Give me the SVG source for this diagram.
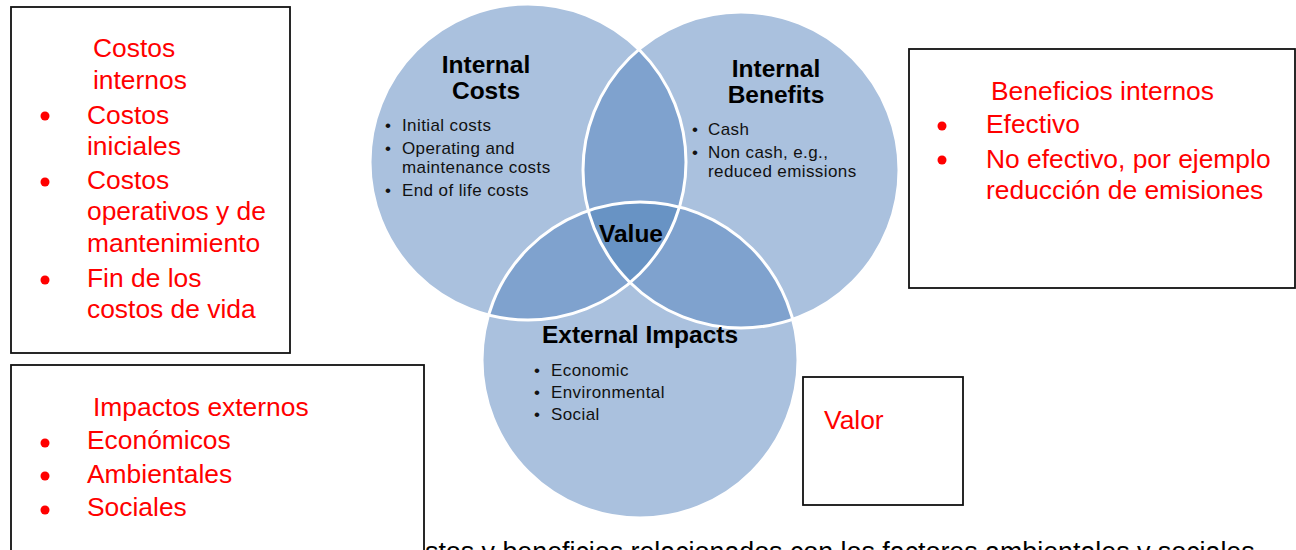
<svg xmlns="http://www.w3.org/2000/svg" width="1296" height="550" viewBox="0 0 1296 550">
  <style>
    .hd { font-family: "Liberation Sans", Arial, sans-serif; font-weight: bold; font-size: 24.5px; fill: #000; text-anchor: middle; }
    .it { font-family: "Liberation Sans", Arial, sans-serif; font-size: 17px; letter-spacing: 0.4px; fill: #111; }
    .rd { font-family: "Liberation Sans", Arial, sans-serif; font-size: 26.4px; fill: #ff0000; }
    .note { font-family: "Liberation Sans", Arial, sans-serif; font-size: 26.8px; fill: #000; }
    .box { fill: #fff; stroke: #111; stroke-width: 1.8; }
    .dot { fill: #ff0000; }
    .c-light { fill: #aac1de; }
    .c-mid { fill: #7fa2ce; }
    .c-dark { fill: #6893c4; }
    .ring { fill: none; stroke: #fff; stroke-width: 3; }
  </style>
  <defs>
    <clipPath id="clip-costs"><circle cx="528" cy="162" r="158"/></clipPath>
    <clipPath id="clip-benefits"><circle cx="741" cy="170" r="158"/></clipPath>
  </defs>

  <!-- Venn diagram: three overlapping circles -->
  <g id="venn">
    <circle class="c-light" cx="528" cy="162" r="158"/>
    <circle class="c-light" cx="741" cy="170" r="158"/>
    <circle class="c-light" cx="640" cy="360" r="158"/>
    <!-- pairwise overlaps -->
    <circle class="c-mid" cx="741" cy="170" r="158" clip-path="url(#clip-costs)"/>
    <circle class="c-mid" cx="640" cy="360" r="158" clip-path="url(#clip-costs)"/>
    <circle class="c-mid" cx="640" cy="360" r="158" clip-path="url(#clip-benefits)"/>
    <!-- centre where all three meet -->
    <g clip-path="url(#clip-costs)">
      <circle class="c-dark" cx="640" cy="360" r="158" clip-path="url(#clip-benefits)"/>
    </g>
    <!-- white outlines -->
    <circle class="ring" cx="528" cy="162" r="158"/>
    <circle class="ring" cx="741" cy="170" r="158"/>
    <circle class="ring" cx="640" cy="360" r="158"/>
  </g>

  <g id="internal-costs">
    <text class="hd" x="486" y="73">Internal</text>
    <text class="hd" x="486" y="99">Costs</text>
    <text class="it" x="385" y="131">•</text>
    <text class="it" x="402" y="131">Initial costs</text>
    <text class="it" x="385" y="154">•</text>
    <text class="it" x="402" y="154">Operating and</text>
    <text class="it" x="402" y="173">maintenance costs</text>
    <text class="it" x="385" y="196">•</text>
    <text class="it" x="402" y="196">End of life costs</text>
  </g>

  <g id="internal-benefits">
    <text class="hd" x="776" y="77">Internal</text>
    <text class="hd" x="776" y="103">Benefits</text>
    <text class="it" x="692" y="135">•</text>
    <text class="it" x="708" y="135">Cash</text>
    <text class="it" x="692" y="158">•</text>
    <text class="it" x="708" y="158">Non cash, e.g.,</text>
    <text class="it" x="708" y="177">reduced emissions</text>
  </g>

  <g id="value">
    <text class="hd" x="631" y="242">Value</text>
  </g>

  <g id="external-impacts">
    <text class="hd" x="640" y="343">External Impacts</text>
    <text class="it" x="534" y="376">•</text>
    <text class="it" x="551" y="376">Economic</text>
    <text class="it" x="534" y="398">•</text>
    <text class="it" x="551" y="398">Environmental</text>
    <text class="it" x="534" y="420">•</text>
    <text class="it" x="551" y="420">Social</text>
  </g>

  <!-- caption line running off the bottom edge -->
  <g id="caption">
    <text class="note" x="425" y="561">stos y beneficios relacionados con los factores ambientales y sociales</text>
  </g>

  <g id="costos-internos">
    <rect class="box" x="11" y="7" width="279" height="346"/>
    <text class="rd" x="93" y="57">Costos</text>
    <text class="rd" x="93" y="89">internos</text>
    <circle class="dot" cx="45" cy="116" r="4.5"/>
    <text class="rd" x="87" y="124">Costos</text>
    <text class="rd" x="87" y="155">iniciales</text>
    <circle class="dot" cx="45" cy="182" r="4.5"/>
    <text class="rd" x="87" y="189">Costos</text>
    <text class="rd" x="87" y="220">operativos y de</text>
    <text class="rd" x="87" y="252">mantenimiento</text>
    <circle class="dot" cx="45" cy="280" r="4.5"/>
    <text class="rd" x="87" y="287">Fin de los</text>
    <text class="rd" x="87" y="318">costos de vida</text>
  </g>

  <g id="beneficios-internos">
    <rect class="box" x="909" y="49" width="386" height="239"/>
    <text class="rd" x="991" y="100">Beneficios internos</text>
    <circle class="dot" cx="942" cy="126" r="4.5"/>
    <text class="rd" x="986" y="133">Efectivo</text>
    <circle class="dot" cx="942" cy="160" r="4.5"/>
    <text class="rd" x="986" y="168">No efectivo, por ejemplo</text>
    <text class="rd" x="986" y="199">reducción de emisiones</text>
  </g>

  <g id="impactos-externos">
    <rect class="box" x="11" y="365" width="413" height="200"/>
    <text class="rd" x="93" y="416">Impactos externos</text>
    <circle class="dot" cx="45" cy="443" r="4.5"/>
    <text class="rd" x="87" y="449">Económicos</text>
    <circle class="dot" cx="45" cy="476" r="4.5"/>
    <text class="rd" x="87" y="483">Ambientales</text>
    <circle class="dot" cx="45" cy="510" r="4.5"/>
    <text class="rd" x="87" y="516">Sociales</text>
  </g>

  <g id="valor">
    <rect class="box" x="803" y="377" width="160" height="128"/>
    <text class="rd" x="824" y="429">Valor</text>
  </g>
</svg>
